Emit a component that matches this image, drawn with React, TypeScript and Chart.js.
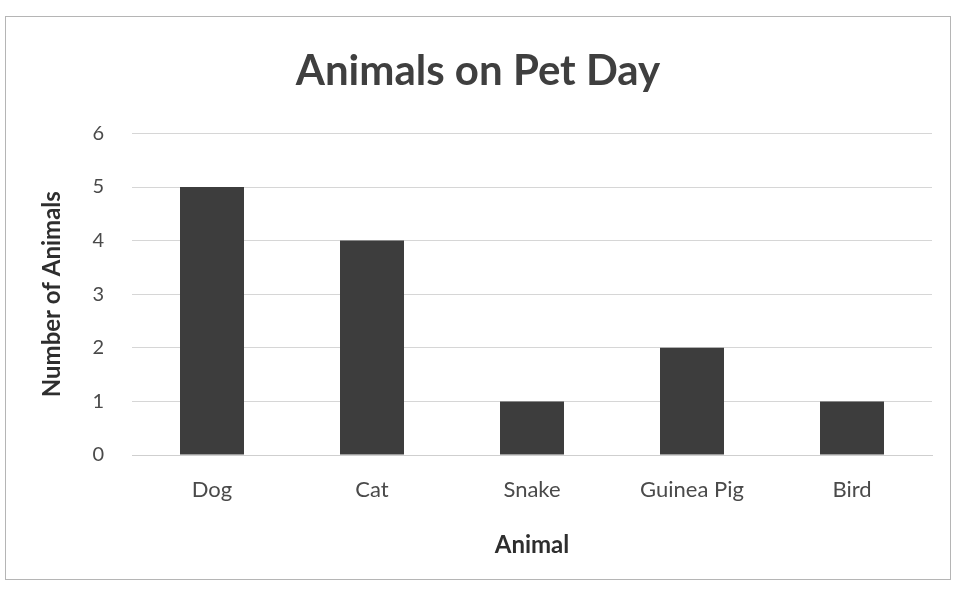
import React, { useEffect, useRef } from "react";
import { Chart, registerables } from "chart.js";

Chart.register(...registerables);

const categories: string[] = ["Dog", "Cat", "Snake", "Guinea Pig", "Bird"];
const animalCounts: number[] = [5, 4, 1, 2, 1];
const yTicks: number[] = [0, 1, 2, 3, 4, 5, 6];

const chartTitle = "Animals on Pet Day";
const xTitle = "Animal";
const yTitle = "Number of Animals";

const FONT = "Lato, 'Noto Sans', sans-serif";

export default function App() {
  const canvasRef = useRef<HTMLCanvasElement | null>(null);

  useEffect(() => {
    if (!canvasRef.current) return;
    const chart = new Chart(canvasRef.current, {
      type: "bar",
      data: {
        labels: categories,
        datasets: [
          {
            label: "Number of Animals",
            data: animalCounts,
            backgroundColor: "#3d3d3d",
            borderWidth: 0,
            categoryPercentage: 1,
            barPercentage: 0.4,
          },
        ],
      },
      options: {
        animation: false,
        responsive: false,
        maintainAspectRatio: false,
        layout: { padding: { left: 24, right: 24, top: 0, bottom: 0 } },
        plugins: {
          legend: { display: false },
          tooltip: { enabled: false },
          title: {
            display: true,
            text: chartTitle,
            color: "#3f3f3f",
            font: { family: FONT, size: 42, weight: "bold" },
            padding: { top: 46, bottom: 37 },
          },
        },
        scales: {
          x: {
            grid: { display: false, drawTicks: false },
            border: { display: true, color: "#cfcfcf", width: 1 },
            ticks: {
              color: "#4a4a4a",
              font: { family: FONT, size: 22 },
              padding: 22,
            },
            title: {
              display: true,
              text: xTitle,
              color: "#2e2e2e",
              font: { family: FONT, size: 24, weight: "bold" },
              padding: { top: 0, bottom: 32 },
            },
            afterFit: (scale: any) => {
              scale.height = 137;
            },
          },
          y: {
            min: 0,
            max: 6,
            afterBuildTicks: (scale: any) => {
              scale.ticks = yTicks.map((v) => ({ value: v }));
            },
            grid: { color: "#d6d6d6", lineWidth: 1, drawTicks: false },
            border: { display: false },
            ticks: {
              color: "#4a4a4a",
              font: { family: FONT, size: 20 },
              padding: 28,
            },
            title: {
              display: true,
              text: yTitle,
              color: "#2e2e2e",
              font: { family: FONT, size: 24, weight: "bold" },
              padding: { top: 14, bottom: 0 },
            },
            afterFit: (scale: any) => {
              scale.width = 108;
            },
          },
        },
      },
    });
    return () => chart.destroy();
  }, []);

  return (
    <div
      style={{
        position: "fixed",
        left: 0,
        top: 0,
        width: 956,
        height: 592,
        background: "#ffffff",
      }}
    >
      <canvas ref={canvasRef} width={956} height={592} style={{ display: "block" }} />
      <div
        style={{
          position: "absolute",
          left: 5,
          top: 16,
          width: 944,
          height: 562,
          border: "1px solid #b5b5b5",
          pointerEvents: "none",
        }}
      />
    </div>
  );
}
